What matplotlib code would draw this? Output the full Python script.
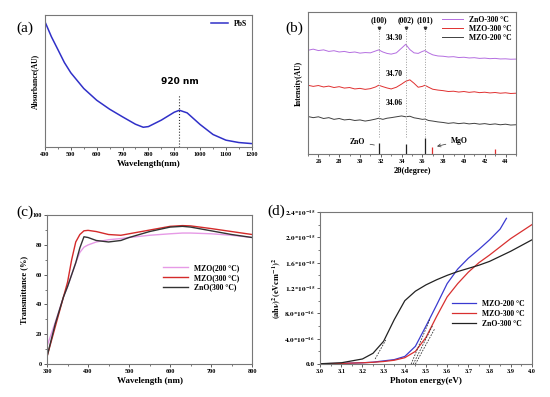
import matplotlib
matplotlib.use("Agg")
import matplotlib.pyplot as plt
import numpy as np

plt.rcParams["font.family"] = ["Liberation Serif", "DejaVu Serif"]
plt.rcParams["mathtext.fontset"] = "stix"

# (a) PbS absorbance
wl_a = [400, 425, 450, 475, 500, 550, 600, 650, 700, 750, 780, 800, 850, 900, 920, 950, 1000, 1050, 1100,
        1150, 1200]
abs_a = [0.949, 0.835, 0.738, 0.64, 0.562, 0.443, 0.354, 0.286, 0.228, 0.172, 0.149, 0.154, 0.203, 0.263,
         0.278, 0.258, 0.17, 0.094, 0.051, 0.033, 0.025]
peak_a = 920

# (b) XRD
theta_b = [25.0, 25.5, 26.0, 26.5, 27.0, 27.5, 28.0, 28.5, 29.0, 29.5, 30.0, 30.5, 31.0, 31.5, 31.8, 32.2,
           32.6, 33.0, 33.5, 34.0, 34.4, 34.8, 35.2, 35.6, 36.0, 36.25, 36.6, 37.0, 37.5, 38.0, 38.5, 39.0,
           39.5, 40.0, 40.5, 41.0, 41.5, 42.0, 42.5, 43.0, 43.5, 44.0, 44.5, 45.0]
zno300 = [0.730, 0.738, 0.728, 0.733, 0.722, 0.727, 0.718, 0.722, 0.714, 0.718, 0.710, 0.714, 0.712, 0.725,
          0.733, 0.718, 0.708, 0.703, 0.712, 0.745, 0.772, 0.735, 0.712, 0.708, 0.722, 0.728, 0.712, 0.698,
          0.690, 0.688, 0.683, 0.685, 0.679, 0.681, 0.676, 0.678, 0.673, 0.675, 0.671, 0.673, 0.669, 0.670,
          0.667, 0.668]
mzo300 = [0.484, 0.476, 0.482, 0.472, 0.478, 0.468, 0.474, 0.464, 0.468, 0.458, 0.462, 0.455, 0.460, 0.472,
          0.484, 0.474, 0.465, 0.458, 0.470, 0.492, 0.512, 0.522, 0.498, 0.470, 0.476, 0.484, 0.470, 0.456,
          0.450, 0.446, 0.440, 0.442, 0.436, 0.440, 0.434, 0.438, 0.432, 0.435, 0.430, 0.433, 0.428, 0.431,
          0.426, 0.428]
mzo200 = [0.264, 0.256, 0.262, 0.250, 0.256, 0.244, 0.250, 0.240, 0.244, 0.236, 0.240, 0.232, 0.238, 0.246,
          0.252, 0.244, 0.252, 0.256, 0.262, 0.268, 0.262, 0.266, 0.255, 0.250, 0.244, 0.246, 0.236, 0.232,
          0.226, 0.222, 0.216, 0.220, 0.214, 0.218, 0.212, 0.216, 0.210, 0.214, 0.208, 0.212, 0.206, 0.210,
          0.204, 0.206]
hkl_pos = [31.8, 34.45, 36.25]
hkl_lab = ["(100)", "(002)", "(101)"]
zno_ref_pos = [31.8, 34.45, 36.25]
zno_ref_int = [0.08, 0.07, 0.115]
mgo_ref_pos = [36.95, 43.0]
mgo_ref_int = [0.05, 0.033]
peak_lab = ["34.30", "34.70", "34.06"]
peak_lab_y = [0.786, 0.534, 0.33]

# (c) transmittance
wl_c = [300, 320, 340, 350, 360, 370, 380, 390, 400, 420, 450, 480, 500, 550, 600, 630, 650, 700, 750, 800]
t_mzo200 = [12, 28, 45, 52, 60, 68, 75, 78.5, 80, 82, 83.5, 84.3, 85, 86.5, 87.5, 88, 88, 87.5, 86.5, 85]
t_mzo300 = [5, 25, 45, 55, 70, 82, 87, 89.5, 89.8, 89, 87, 86.5, 87.5, 90, 92.5, 93, 92.8, 91, 89, 87]
t_zno300 = [5, 27, 45, 52, 60, 68, 78, 85.5, 85, 83, 82, 83, 85, 89, 92, 92.5, 92, 89.5, 87, 85]

# (d) Tauc plot
e_d = [3.0, 3.1, 3.2, 3.25, 3.3, 3.35, 3.4, 3.45, 3.5, 3.55, 3.6, 3.65, 3.7, 3.75, 3.8, 3.85, 3.9, 3.95, 4.0]
d_mzo200 = [0.005, 0.01, 0.02, 0.03, 0.05, 0.07, 0.12, 0.28, 0.6, 0.93, 1.27, 1.5, 1.67, 1.81, 1.96, 2.13, 2.3]
d_mzo300 = [0.005, 0.01, 0.02, 0.028, 0.04, 0.06, 0.1, 0.2, 0.42, 0.75, 1.06, 1.27, 1.45, 1.6, 1.72, 1.85, 1.98,
            2.09, 2.2]
d_zno300 = [0.005, 0.02, 0.08, 0.17, 0.36, 0.7, 1.0, 1.15, 1.25, 1.33, 1.4, 1.46, 1.51, 1.56, 1.62, 1.7, 1.78,
            1.87, 1.96]
e_d_blue = [3.0, 3.1, 3.2, 3.25, 3.3, 3.35, 3.4, 3.45, 3.5, 3.55, 3.6, 3.65, 3.7, 3.75, 3.8, 3.85, 3.88]
tangents = [([3.26, 3.31], [0.08, 0.38]), ([3.43, 3.52], [0.0, 0.72]),
            ([3.44, 3.53], [0.0, 0.6]), ([3.45, 3.54], [0.0, 0.55])]

spine_col = "#777777"
fig = plt.figure(figsize=(5.5, 3.97), dpi=100)


def style(ax):
    for s in ax.spines.values():
        s.set_color(spine_col)
        s.set_linewidth(0.8)
    ax.tick_params(direction="out", length=2, width=0.6, labelsize=4.5, pad=1.5, color="#444444")
    ax.tick_params(which="minor", direction="out", length=1.2, width=0.5, color="#444444")
    for lab in ax.get_xticklabels() + ax.get_yticklabels():
        lab.set_fontweight("bold")


# ---- (a)
ax = fig.add_axes([0.0818, 0.630, 0.376, 0.332])
ax.plot(wl_a, abs_a, color="#3030c8", lw=1.1, label="PbS")
ax.plot([peak_a, peak_a], [0, 0.39], ls=":", color="#333333", lw=0.8)
ax.text(peak_a, 0.46, "920 nm", ha="center", va="bottom", fontsize=6.5, fontweight="bold",
        family="DejaVu Sans")
ax.set_xlim(400, 1200)
ax.set_ylim(0, 1)
ax.set_xticks(range(400, 1201, 100))
ax.set_xticks(range(450, 1200, 100), minor=True)
ax.set_yticks([])
ax.set_xlabel("Wavelength(nm)", fontsize=6.5, fontweight="bold", labelpad=2)
ax.set_ylabel("Absorbance(AU)", fontsize=5.5, fontweight="bold", labelpad=4)
ax.legend(loc="upper right", frameon=False, prop={"size": 5.5, "weight": "bold"}, handlelength=2.2,
          borderaxespad=0.2)
style(ax)
fig.text(0.045, 0.93, "(a)", fontsize=11, ha="center", va="center")

# ---- (b)
ax = fig.add_axes([0.560, 0.612, 0.378, 0.358])
ax.plot(theta_b, zno300, color="#b46ee0", lw=0.7, label="ZnO-300 \u00b0C")
ax.plot(theta_b, mzo300, color="#e03030", lw=0.7, label="MZO-300 \u00b0C")
ax.plot(theta_b, mzo200, color="#404040", lw=0.7, label="MZO-200 \u00b0C")
for p, lab in zip(hkl_pos, hkl_lab):
    ax.plot([p, p], [0.12, 0.88], ls=":", color="#999999", lw=0.7)
    ax.plot(p, 0.885, marker="v", ms=1.8, color="#333333")
    ax.text(p, 0.915, lab, ha="center", va="bottom", fontsize=5.5, fontweight="bold")
ax.vlines(zno_ref_pos, 0, zno_ref_int, color="#222222", lw=0.9)
ax.vlines(mgo_ref_pos, 0, mgo_ref_int, color="#e03030", lw=0.9)
for y, lab in zip(peak_lab_y, peak_lab):
    ax.text(33.25, y, lab, ha="center", va="bottom", fontsize=5.5, fontweight="bold")
ax.annotate("ZnO", xy=(31.65, 0.06), xytext=(29.7, 0.085), fontsize=5.5, fontweight="bold",
            ha="center", va="center", arrowprops=dict(arrowstyle="-", color="#333333", lw=0.5))
ax.annotate("MgO", xy=(37.15, 0.05), xytext=(39.6, 0.092), fontsize=5.5, fontweight="bold",
            ha="center", va="center", arrowprops=dict(arrowstyle="->", color="#333333", lw=0.5))
ax.set_xlim(25, 45)
ax.set_ylim(0, 1)
ax.set_xticks(range(26, 45, 2))
ax.set_xticks(range(25, 46, 1), minor=True)
ax.set_yticks([])
ax.set_xlabel("2\u03b8(degree)", fontsize=6, fontweight="bold", labelpad=2)
ax.set_ylabel("Intensity(AU)", fontsize=5.5, fontweight="bold", labelpad=4)
ax.legend(loc="upper right", frameon=False, prop={"size": 5.5, "weight": "bold"}, handlelength=2.8,
          borderaxespad=0.1, labelspacing=0.15)
style(ax)
fig.text(0.535, 0.93, "(b)", fontsize=11, ha="center", va="center")

# ---- (c)
ax = fig.add_axes([0.0855, 0.083, 0.373, 0.375])
ax.plot(wl_c, t_mzo200, color="#e69ae6", lw=1.0, label="MZO(200 \u00b0C)")
ax.plot(wl_c, t_mzo300, color="#d42a2a", lw=1.0, label="MZO(300 \u00b0C)")
ax.plot(wl_c, t_zno300, color="#333333", lw=1.0, label="ZnO(300 \u00b0C)")
ax.set_xlim(300, 800)
ax.set_ylim(0, 100)
ax.set_xticks(range(300, 801, 100))
ax.set_xticks(range(350, 800, 100), minor=True)
ax.set_yticks(range(0, 101, 20))
ax.set_yticks(range(10, 100, 20), minor=True)
ax.set_xlabel("Wavelength (nm)", fontsize=6.5, fontweight="bold", labelpad=2)
ax.set_ylabel("Transmittance (%)", fontsize=6, fontweight="bold", labelpad=3)
ax.legend(loc="center right", bbox_to_anchor=(0.97, 0.58), frameon=False,
          prop={"size": 5.5, "weight": "bold"}, handlelength=3.2, labelspacing=0.25)
style(ax)
fig.text(0.045, 0.465, "(c)", fontsize=11, ha="center", va="center")

# ---- (d)
ax = fig.add_axes([0.582, 0.083, 0.385, 0.383])
ax.plot(e_d_blue, [v * 1e-15 for v in d_mzo200], color="#3a3ad0", lw=0.9, label="MZO-200 \u00b0C")
ax.plot(e_d, [v * 1e-15 for v in d_mzo300], color="#d83030", lw=0.9, label="MZO-300 \u00b0C")
ax.plot(e_d, [v * 1e-15 for v in d_zno300], color="#222222", lw=0.9, label="ZnO-300 \u00b0C")
for xs, ys in tangents:
    ax.plot(xs, [v * 1e-15 for v in ys], ls="--", color="#333333", lw=0.6, dashes=(2, 1.5))
ax.set_xlim(3.0, 4.0)
ax.set_ylim(0, 2.4e-15)
ax.set_xticks(np.arange(3.0, 4.01, 0.1))
ax.set_xticklabels([f"{v:.1f}" for v in np.arange(3.0, 4.01, 0.1)])
ax.set_xticks(np.arange(3.05, 4.0, 0.1), minor=True)
yt = [0, 0.4e-15, 0.8e-15, 1.2e-15, 1.6e-15, 2.0e-15, 2.4e-15]
ax.set_yticks(yt)
ax.set_yticks(np.arange(0.2e-15, 2.4e-15, 0.4e-15), minor=True)
ax.set_yticklabels(["0.0", r"$\mathbf{4.0{*}10^{-16}}$", r"$\mathbf{8.0{*}10^{-16}}$",
                    r"$\mathbf{1.2{*}10^{-15}}$", r"$\mathbf{1.6{*}10^{-15}}$",
                    r"$\mathbf{2.0{*}10^{-15}}$", r"$\mathbf{2.4{*}10^{-15}}$"])
ax.set_xlabel("Photon energy(eV)", fontsize=6.5, fontweight="bold", labelpad=2)
ax.set_ylabel(r"$\mathbf{(ah\nu)^2(eVcm^{-1})^2}$", fontsize=6, labelpad=1)
ax.legend(loc="center right", bbox_to_anchor=(1.0, 0.33), frameon=False,
          prop={"size": 5.5, "weight": "bold"}, handlelength=3.2, labelspacing=0.25)
style(ax)
ax.tick_params(axis="y", labelsize=5.2)
fig.text(0.503, 0.467, "(d)", fontsize=11, ha="center", va="center")

fig.savefig("out.png", dpi=100)
